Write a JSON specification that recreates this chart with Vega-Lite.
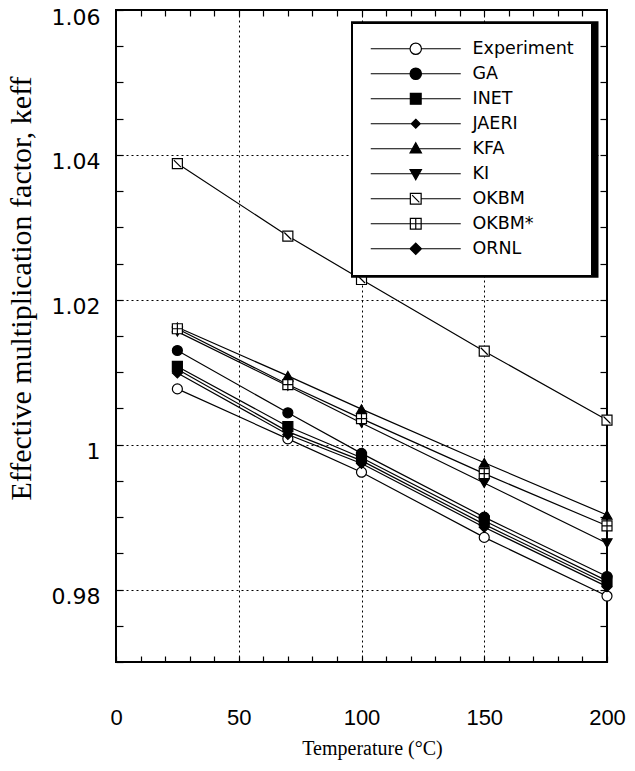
{
  "$schema": "https://vega.github.io/schema/vega-lite/v6.json",
  "width": 491,
  "height": 652,
  "autosize": {"type": "none"},
  "padding": {"left": 116, "top": 10, "right": 28, "bottom": 109},
  "background": "white",
  "config": {
    "view": {"stroke": "black", "strokeWidth": 2},
    "axis": {"labelColor": "black", "titleColor": "black", "tickColor": "black", "labelFlush": false, "labelOverlap": false, "labelBound": false}
  },
  "data": {
    "values": [
      {"series": "Experiment", "t": 25, "k": 1.0077},
      {"series": "Experiment", "t": 70, "k": 1.0008},
      {"series": "Experiment", "t": 100, "k": 0.9962},
      {"series": "Experiment", "t": 150, "k": 0.9872},
      {"series": "Experiment", "t": 200, "k": 0.9791},
      {"series": "GA", "t": 25, "k": 1.0130},
      {"series": "GA", "t": 70, "k": 1.0044},
      {"series": "GA", "t": 100, "k": 0.9988},
      {"series": "GA", "t": 150, "k": 0.9900},
      {"series": "GA", "t": 200, "k": 0.9818},
      {"series": "INET", "t": 25, "k": 1.0108},
      {"series": "INET", "t": 70, "k": 1.0025},
      {"series": "INET", "t": 100, "k": 0.9982},
      {"series": "INET", "t": 150, "k": 0.9895},
      {"series": "INET", "t": 200, "k": 0.9812},
      {"series": "JAERI", "t": 25, "k": 1.0104},
      {"series": "JAERI", "t": 70, "k": 1.0018},
      {"series": "JAERI", "t": 100, "k": 0.9978},
      {"series": "JAERI", "t": 150, "k": 0.9890},
      {"series": "JAERI", "t": 200, "k": 0.9808},
      {"series": "KFA", "t": 25, "k": 1.0162},
      {"series": "KFA", "t": 70, "k": 1.0095},
      {"series": "KFA", "t": 100, "k": 1.0049},
      {"series": "KFA", "t": 150, "k": 0.9975},
      {"series": "KFA", "t": 200, "k": 0.9903},
      {"series": "KI", "t": 25, "k": 1.0156},
      {"series": "KI", "t": 70, "k": 1.0081},
      {"series": "KI", "t": 100, "k": 1.0030},
      {"series": "KI", "t": 150, "k": 0.9947},
      {"series": "KI", "t": 200, "k": 0.9864},
      {"series": "OKBM", "t": 25, "k": 1.0388},
      {"series": "OKBM", "t": 70, "k": 1.0288},
      {"series": "OKBM", "t": 100, "k": 1.0228},
      {"series": "OKBM", "t": 150, "k": 1.0129},
      {"series": "OKBM", "t": 200, "k": 1.0034},
      {"series": "OKBM*", "t": 25, "k": 1.0160},
      {"series": "OKBM*", "t": 70, "k": 1.0083},
      {"series": "OKBM*", "t": 100, "k": 1.0036},
      {"series": "OKBM*", "t": 150, "k": 0.9960},
      {"series": "OKBM*", "t": 200, "k": 0.9888},
      {"series": "ORNL", "t": 25, "k": 1.0099},
      {"series": "ORNL", "t": 70, "k": 1.0014},
      {"series": "ORNL", "t": 100, "k": 0.9974},
      {"series": "ORNL", "t": 150, "k": 0.9886},
      {"series": "ORNL", "t": 200, "k": 0.9804}
    ]
  },
  "layer": [
    {
      "mark": {"type": "line", "color": "black", "strokeWidth": 1.2},
      "encoding": {
        "x": {
          "field": "t", "type": "quantitative",
          "scale": {"domain": [0, 200], "nice": false, "zero": false},
          "axis": {
            "orient": "bottom",
            "values": [0,10,20,30,40,50,60,70,80,90,100,110,120,130,140,150,160,170,180,190,200],
            "tickSize": -6, "tickWidth": 1.2, "domain": false,
            "labelExpr": "datum.value % 50 === 0 ? datum.label : ''",
            "labelFont": "Liberation Sans", "labelFontSize": 22, "labelPadding": 51,
            "title": "Temperature (°C)", "titleFont": "Liberation Serif", "titleFontSize": 20,
            "titleFontWeight": "normal", "titlePadding": 10, "titleX": 256,
            "grid": true, "gridColor": "black", "gridDash": [2, 3], "gridWidth": 1,
            "gridOpacity": {"condition": {"test": "datum.value % 50 === 0", "value": 1}, "value": 0}
          }
        },
        "y": {
          "field": "k", "type": "quantitative",
          "scale": {"domain": [0.97, 1.06], "nice": false, "zero": false},
          "axis": {
            "orient": "left",
            "values": [0.97,0.975,0.98,0.985,0.99,0.995,1,1.005,1.01,1.015,1.02,1.025,1.03,1.035,1.04,1.045,1.05,1.055,1.06],
            "tickSize": -7, "tickWidth": 1.2, "domain": false,
            "labelExpr": "round(datum.value*1000) % 20 === 0 ? format(datum.value, '~g') : ''",
            "labelFont": "DejaVu Sans", "labelFontSize": 22, "labelPadding": 23, "labelOffset": 7,
            "title": "Effective multiplication factor, keff", "titleFont": "Liberation Serif", "titleFontSize": 30,
            "titleFontWeight": "normal", "titleAngle": 270, "titleAlign": "center", "titleBaseline": "middle",
            "titleX": -95, "titleY": 278,
            "grid": true, "gridColor": "black", "gridDash": [2, 3], "gridWidth": 1,
            "gridOpacity": {"condition": {"test": "round(datum.value*1000) % 20 === 0", "value": 1}, "value": 0}
          }
        },
        "detail": {"field": "series"}
      }
    },
    {
      "mark": {"type": "point", "filled": true, "opacity": 1, "stroke": "black", "strokeWidth": 1.2, "size": 100},
      "encoding": {
        "x": {
          "field": "t", "type": "quantitative",
          "axis": {"orient": "top", "values": [10,20,30,40,50,60,70,80,90,100,110,120,130,140,150,160,170,180,190],
                   "tickSize": -6, "tickWidth": 1.2, "labels": false, "domain": false, "grid": false, "title": null}
        },
        "y": {
          "field": "k", "type": "quantitative",
          "axis": {"orient": "right", "values": [0.975,0.98,0.985,0.99,0.995,1,1.005,1.01,1.015,1.02,1.025,1.03,1.035,1.04,1.045,1.05,1.055],
                   "tickSize": -7, "tickWidth": 1.2, "labels": false, "domain": false, "grid": false, "title": null}
        },
        "shape": {
          "field": "series", "type": "nominal",
          "scale": {
            "domain": ["Experiment","GA","INET","JAERI","KFA","KI","OKBM","OKBM*","ORNL"],
            "range": ["circle","circle","square","M0,-0.8L0.8,0L0,0.8L-0.8,0Z","triangle-up","triangle-down","M-1,-1H1V1H-1Z M-0.7,-0.7L0.7,0.7","M-1,-1H1V1H-1Z M0,-1V1 M-1,0H1","diamond"]
          },
          "legend": null
        },
        "fill": {
          "field": "series", "type": "nominal",
          "scale": {
            "domain": ["Experiment","GA","INET","JAERI","KFA","KI","OKBM","OKBM*","ORNL"],
            "range": ["white","black","black","black","black","black","white","white","black"]
          },
          "legend": null
        }
      }
    },
    {
      "transform": [{"filter": "false"}],
      "mark": {"type": "point", "filled": true, "opacity": 1, "strokeWidth": 1.2},
      "encoding": {
        "x": {"field": "t", "type": "quantitative", "axis": null},
        "y": {"field": "k", "type": "quantitative", "axis": null},
        "shape": {
          "field": "series", "type": "nominal",
          "scale": {
            "domain": ["Experiment","GA","INET","JAERI","KFA","KI","OKBM","OKBM*","ORNL"],
            "range": [
              "M-7.5,0H-0.95 M0.95,0H7.5 M-0.95,0A0.95,0.95 0 1,0 0.95,0A0.95,0.95 0 1,0 -0.95,0Z",
              "M-7.5,0H7.5 M-0.95,0A0.95,0.95 0 1,0 0.95,0A0.95,0.95 0 1,0 -0.95,0Z",
              "M-7.5,0H7.5 M-0.9,-0.9H0.9V0.9H-0.9Z",
              "M-7.5,0H7.5 M0,-0.75L0.75,0L0,0.75L-0.75,0Z",
              "M-7.5,0H7.5 M0,-1L0.95,0.7L-0.95,0.7Z",
              "M-7.5,0H7.5 M0,1L0.95,-0.7L-0.95,-0.7Z",
              "M-7.5,0H-0.9 M0.9,0H7.5 M-0.9,-0.9H0.9V0.9H-0.9Z M-0.6,-0.6L0.6,0.6",
              "M-7.5,0H-0.9 M0.9,0H7.5 M-0.9,-0.9H0.9V0.9H-0.9Z M0,-0.9V0.9 M-0.9,0H0.9",
              "M-7.5,0H7.5 M0,-0.95L0.95,0L0,0.95L-0.95,0Z"
            ]
          },
          "legend": {
            "title": null, "orient": "none", "legendX": 236, "legendY": 13, "zindex": 2,
            "symbolSize": 144, "symbolOffset": 38, "labelOffset": 48,
            "labelFont": "DejaVu Sans", "labelFontSize": 17.5, "labelColor": "black", "labelLimit": 300,
            "padding": 17, "rowPadding": 6,
            "strokeColor": "black", "fillColor": "white",
            "symbolStrokeColor": "black", "symbolStrokeWidth": 1.2, "symbolOpacity": 1
          }
        },
        "fill": {
          "field": "series", "type": "nominal",
          "scale": {
            "domain": ["Experiment","GA","INET","JAERI","KFA","KI","OKBM","OKBM*","ORNL"],
            "range": ["white","black","black","black","black","black","white","white","black"]
          },
          "legend": {
            "title": null, "orient": "none", "legendX": 236, "legendY": 13, "zindex": 2,
            "symbolSize": 144, "symbolOffset": 38, "labelOffset": 48,
            "labelFont": "DejaVu Sans", "labelFontSize": 17.5, "labelColor": "black", "labelLimit": 300,
            "padding": 17, "rowPadding": 6,
            "strokeColor": "black", "fillColor": "white",
            "symbolStrokeColor": "black", "symbolStrokeWidth": 1.2, "symbolOpacity": 1
          }
        },
        "stroke": {
          "field": "series", "type": "nominal",
          "scale": {
            "domain": ["Experiment","GA","INET","JAERI","KFA","KI","OKBM","OKBM*","ORNL"],
            "range": ["black","black","black","black","black","black","black","black","black"]
          },
          "legend": {
            "title": null, "orient": "none", "legendX": 236, "legendY": 13, "zindex": 2,
            "symbolSize": 144, "symbolOffset": 38, "labelOffset": 48,
            "labelFont": "DejaVu Sans", "labelFontSize": 17.5, "labelColor": "black", "labelLimit": 300,
            "padding": 17, "rowPadding": 6,
            "strokeColor": "black", "fillColor": "white",
            "symbolStrokeWidth": 1.2, "symbolOpacity": 1
          }
        },
        "strokeDash": {
          "field": "series", "type": "nominal",
          "scale": {"domain": ["shadow"], "range": [[1, 0]]},
          "legend": {
            "title": null, "orient": "none", "legendX": 353.75, "legendY": 134.5, "zindex": 1,
            "padding": 0, "symbolType": "M-24.75,-25.65H24.75V25.65H-24.75Z", "symbolSize": 100,
            "symbolFillColor": "black", "symbolStrokeColor": "black", "symbolStrokeWidth": 0, "symbolOpacity": 1,
            "symbolOffset": 0, "labelExpr": "''", "labelOffset": 0
          }
        }
      }
    }
  ],
  "resolve": {
    "scale": {"shape": "independent", "fill": "independent", "stroke": "independent", "strokeDash": "independent"},
    "legend": {"shape": "independent", "fill": "independent", "stroke": "independent", "strokeDash": "independent"},
    "axis": {"x": "independent", "y": "independent"}
  }
}
